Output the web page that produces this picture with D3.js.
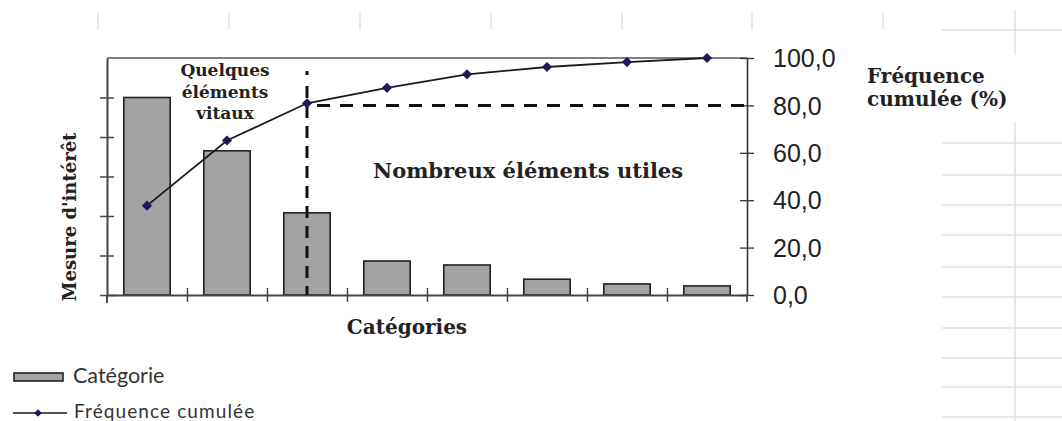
<!DOCTYPE html>
<html>
<head>
<meta charset="utf-8">
<script src="https://cdn.jsdelivr.net/npm/d3@7"></script>
<style>
  html, body { margin: 0; padding: 0; background: #fff; }
  svg { display: block; }
</style>
</head>
<body>
<svg id="chart" width="1062" height="421"></svg>
<script>
// Pareto data: measure per category and cumulative frequency (%)
const categories = ["C1", "C2", "C3", "C4", "C5", "C6", "C7", "C8"];
const measures = [50, 36.5, 20.8, 8.6, 7.6, 4.0, 2.8, 2.3];
const cumulative = [37.7, 65.2, 80.9, 87.4, 93.1, 96.2, 98.3, 100];
const rightTicks = [0, 20, 40, 60, 80, 100];
const leftTicks = [0, 10, 20, 30, 40, 50];
const threshold = 80;
const vitalCount = 3;

const svg = d3.select("#chart");
const plotL = 107, plotR = 747, plotT = 58, plotB = 295;

// faint spreadsheet gridlines in the background
const bg = svg.append("g").attr("stroke", "#e2e2e2").attr("stroke-width", 1.5);
[98, 229, 360, 491, 622, 752, 883].forEach(px =>
  bg.append("line").attr("x1", px).attr("x2", px).attr("y1", 13).attr("y2", 30));
bg.append("line").attr("x1", 1015).attr("x2", 1015).attr("y1", 10).attr("y2", 55);
bg.append("line").attr("x1", 1015).attr("x2", 1015).attr("y1", 122).attr("y2", 421);
[30, 143, 175, 205, 235, 267, 297, 328, 358, 387, 417].forEach(py =>
  bg.append("line").attr("x1", 942).attr("x2", 1062).attr("y1", py).attr("y2", py));

const x = d3.scaleBand().domain(categories).range([plotL, plotR])
  .paddingInner(0.42).paddingOuter(0.21);
const yL = d3.scaleLinear().domain([0, 60]).range([plotB, plotT]);
const yR = d3.scaleLinear().domain([0, 100]).range([plotB, plotT]);
const edges = d3.scaleLinear().domain([0, categories.length]).range([plotL, plotR]);

// top frame line
svg.append("line").attr("x1", plotL).attr("x2", plotR).attr("y1", plotT).attr("y2", plotT)
  .attr("stroke", "#555").attr("stroke-width", 1.3);

// bars
svg.append("g").selectAll("rect").data(measures).join("rect")
  .attr("x", (d, i) => x(categories[i]))
  .attr("width", x.bandwidth())
  .attr("y", d => yL(d))
  .attr("height", d => yL(0) - yL(d))
  .attr("fill", "#a3a3a3").attr("stroke", "#222").attr("stroke-width", 1.6);

// axes with crossing tick marks
function styleAxis(g, horizontal) {
  g.selectAll("text").remove();
  g.select(".domain").attr("stroke", "#444").attr("stroke-width", 2);
  g.selectAll(".tick line").attr("stroke", "#444").attr("stroke-width", 1.5)
    .attr(horizontal ? "y1" : "x1", -7).attr(horizontal ? "y2" : "x2", 7);
}
svg.append("g").attr("transform", `translate(${plotL},0)`)
  .call(d3.axisLeft(yL).tickValues(leftTicks).tickSizeOuter(0).tickFormat(""))
  .call(g => styleAxis(g, false));
svg.append("g").attr("transform", `translate(0,${plotB})`)
  .call(d3.axisBottom(edges).tickValues(d3.range(1, categories.length)).tickSizeOuter(0).tickFormat(""))
  .call(g => styleAxis(g, true));
svg.append("line").attr("x1", plotL).attr("x2", plotL).attr("y1", plotB).attr("y2", plotB + 8)
  .attr("stroke", "#444").attr("stroke-width", 2);

const rAxis = svg.append("g").attr("transform", `translate(${plotR},0)`)
  .call(d3.axisRight(yR).tickValues(rightTicks).tickSizeOuter(0)
    .tickFormat(d => d.toFixed(1).replace(".", ",")));
rAxis.select(".domain").attr("stroke", "#333").attr("stroke-width", 1.6);
rAxis.selectAll(".tick line").attr("stroke", "#333").attr("stroke-width", 1.3)
  .attr("x1", -7).attr("x2", 7);
rAxis.selectAll(".tick text").attr("x", 26).attr("dy", "0.35em")
  .attr("font-family", "Liberation Sans, Arial, sans-serif").attr("font-size", 25)
  .attr("fill", "#222");
svg.append("line").attr("x1", plotR).attr("x2", plotR).attr("y1", plotB).attr("y2", plotB + 7)
  .attr("stroke", "#333").attr("stroke-width", 1.6);

// 80% threshold guides
const cx = x(categories[vitalCount - 1]) + x.bandwidth() / 2;
svg.append("line").attr("x1", cx).attr("x2", cx).attr("y1", 86).attr("y2", plotB)
  .attr("stroke", "#111").attr("stroke-width", 3).attr("stroke-dasharray", "12,8");
svg.append("line").attr("x1", cx).attr("x2", cx).attr("y1", 71).attr("y2", 75)
  .attr("stroke", "#111").attr("stroke-width", 3);
svg.append("line").attr("x1", cx + 10).attr("x2", plotR).attr("y1", yR(threshold)).attr("y2", yR(threshold))
  .attr("stroke", "#111").attr("stroke-width", 3).attr("stroke-dasharray", "13,10");

// cumulative frequency line
const line = d3.line().x((d, i) => x(categories[i]) + x.bandwidth() / 2).y(d => yR(d));
svg.append("path").datum(cumulative).attr("d", line)
  .attr("fill", "none").attr("stroke", "#1a1a1a").attr("stroke-width", 1.8);
const diamond = d3.symbol(d3.symbolSquare, 52);
svg.append("g").selectAll("path").data(cumulative).join("path")
  .attr("d", diamond)
  .attr("transform", (d, i) => `translate(${x(categories[i]) + x.bandwidth() / 2},${yR(d)}) rotate(45)`)
  .attr("fill", "#1c1c5c");

// labels
const serif = "DejaVu Serif, serif";
function label(txt, px, py, size, anchor, extra) {
  const t = svg.append("text").attr("x", px).attr("y", py).text(txt)
    .attr("font-family", serif).attr("font-weight", "bold").attr("font-size", size)
    .attr("text-anchor", anchor).attr("fill", "#222");
  if (extra) extra(t);
  return t;
}
["Quelques", "éléments", "vitaux"].forEach((s, i) => label(s, 225, 76 + i * 21.5, 17, "middle"));
label("Nombreux éléments utiles", 528, 178, 21, "middle");
label("Catégories", 407, 334, 20, "middle");
label("Mesure d'intérêt", 0, 0, 18, "middle",
  t => t.attr("transform", "translate(76,217) rotate(-90)"));
label("Fréquence", 867, 83, 20, "start");
label("cumulée (%)", 867, 106, 20, "start");

// legend
const sans = "Lato, Open Sans, sans-serif";
svg.append("rect").attr("x", 14).attr("y", 373).attr("width", 49).attr("height", 8)
  .attr("fill", "#a3a3a3").attr("stroke", "#222").attr("stroke-width", 1.6);
svg.append("text").attr("x", 73).attr("y", 383).text("Catégorie")
  .attr("font-family", sans).attr("font-size", 21.5).attr("fill", "#333");
svg.append("line").attr("x1", 13).attr("x2", 67).attr("y1", 413).attr("y2", 413)
  .attr("stroke", "#1a1a1a").attr("stroke-width", 1.5);
svg.append("path").attr("d", d3.symbol(d3.symbolSquare, 30))
  .attr("transform", "translate(38,413) rotate(45)").attr("fill", "#1c1c5c");
svg.append("text").attr("x", 74).attr("y", 418).text("Fréquence cumulée")
  .attr("font-family", sans).attr("font-size", 19).attr("letter-spacing", 1.1).attr("fill", "#333");
</script>
</body>
</html>
